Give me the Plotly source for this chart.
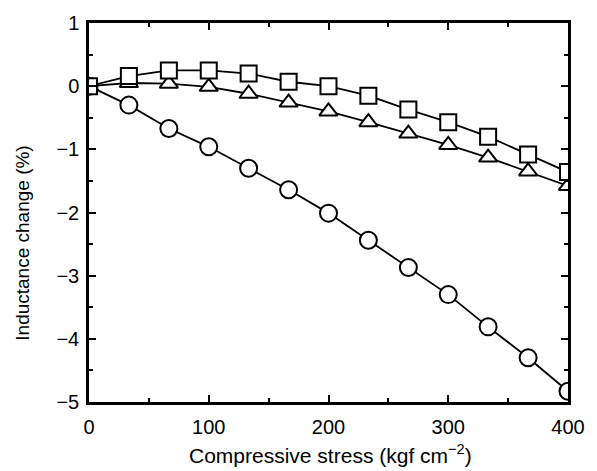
import plotly.graph_objects as go

stress = [0, 33.3, 66.7, 100, 133.3, 166.7, 200, 233.3, 266.7, 300, 333.3, 366.7, 400]
circles = [0, -0.30, -0.67, -0.96, -1.30, -1.64, -2.01, -2.44, -2.87, -3.30, -3.81, -4.30, -4.83]
triangles = [0, 0.05, 0.04, -0.01, -0.12, -0.26, -0.40, -0.57, -0.75, -0.93, -1.13, -1.35, -1.58]
squares = [0, 0.16, 0.25, 0.25, 0.20, 0.07, 0.00, -0.15, -0.37, -0.57, -0.80, -1.08, -1.36]

x_title = "Compressive stress (kgf cm<sup>−2</sup>)"
y_title = "Inductance change (%)"

fig = go.Figure()
line = dict(color="black", width=1.8)
mk = dict(color="white", line=dict(color="black", width=2))
fig.add_trace(go.Scatter(x=stress, y=circles, mode="lines+markers", line=line,
                         marker=dict(symbol="circle", size=17, **mk)))
fig.add_trace(go.Scatter(x=stress, y=triangles, mode="lines+markers", line=line,
                         marker=dict(symbol="triangle-up", size=16, **mk)))
fig.add_trace(go.Scatter(x=stress, y=squares, mode="lines+markers", line=line,
                         marker=dict(symbol="square", size=16, **mk)))

fam = "Liberation Sans, Arial, sans-serif"
axis_common = dict(showline=True, linecolor="black", linewidth=2.5, mirror="allticks",
                   ticks="inside", ticklen=7, tickwidth=2, tickcolor="black",
                   showgrid=False, zeroline=False, tickfont=dict(size=20, family=fam, color="black"))
fig.update_xaxes(range=[0, 400], tickvals=[0, 100, 200, 300, 400], ticklabelstandoff=5,
                 minor=dict(tickvals=[50, 150, 250, 350], ticks="inside", ticklen=4, tickwidth=1.5, tickcolor="black"),
                 **axis_common)
fig.update_yaxes(range=[-5, 1], tickvals=[1, 0, -1, -2, -3, -4, -5], ticklabelstandoff=3,
                 minor=dict(tickvals=[0.5, -0.5, -1.5, -2.5, -3.5, -4.5], ticks="inside", ticklen=4, tickwidth=1.5, tickcolor="black"),
                 **axis_common)
fig.add_annotation(text=x_title, xref="paper", yref="paper", x=0.504, y=-0.137,
                   xanchor="center", yanchor="middle", showarrow=False,
                   font=dict(family=fam, size=21, color="black"))
fig.add_annotation(text=y_title, xref="paper", yref="paper", x=-0.138, y=0.42,
                   xanchor="center", yanchor="middle", textangle=-90, showarrow=False,
                   font=dict(family=fam, size=19, color="black"))
fig.update_layout(width=597, height=471, margin=dict(l=89, r=22, t=15, b=69),
                  plot_bgcolor="white", paper_bgcolor="white", showlegend=False,
                  font=dict(family=fam, color="black"))
fig.write_html("out.html")
